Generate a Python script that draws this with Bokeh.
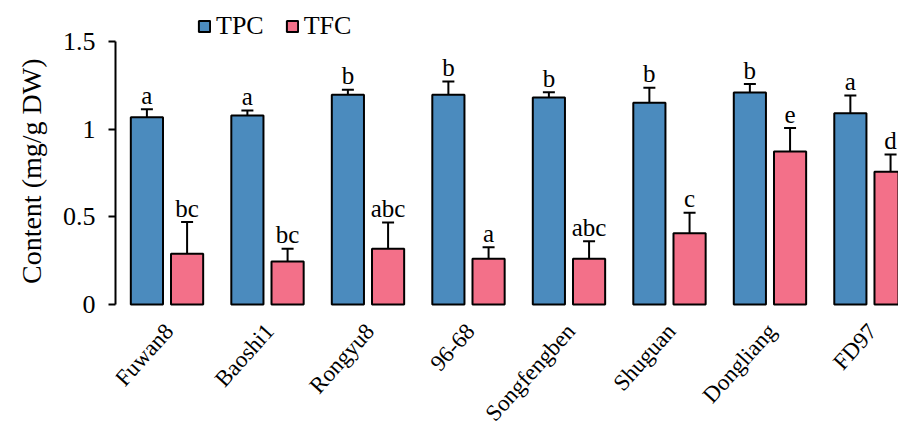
import numpy as np
from math import pi
from bokeh.plotting import figure
from bokeh.models import (ColumnDataSource, Whisker, TeeHead, Legend, LegendItem,
                          FixedTicker, Range1d, Title)
from bokeh.core.properties import value
from bokeh.embed import file_html
from bokeh.resources import INLINE

categories = ["Fuwan8", "Baoshi1", "Rongyu8", "96-68", "Songfengben", "Shuguan", "Dongliang", "FD97"]
tpc = [1.068, 1.078, 1.196, 1.196, 1.181, 1.150, 1.209, 1.091]
tpc_err = [0.045, 0.029, 0.029, 0.076, 0.030, 0.086, 0.048, 0.101]
tfc = [0.289, 0.245, 0.318, 0.261, 0.261, 0.407, 0.873, 0.757]
tfc_err = [0.181, 0.073, 0.150, 0.066, 0.100, 0.116, 0.133, 0.099]
tpc_letters = ["a", "a", "b", "b", "b", "b", "b", "a"]
tfc_letters = ["bc", "bc", "abc", "a", "abc", "c", "e", "d"]
y_ticks = [0, 0.5, 1, 1.5]
y_tick_labels = ["0", "0.5", "1", "1.5"]
y_title = "Content (mg/g DW)"

FONT = "Liberation Serif"
BLUE = "#4B8BBE"
PINK = "#F37089"
LETTER_GAP = 0.08      # gap between cap and letter, in data units
LABEL_Y = -0.13        # anchor of the category names, in data units
LABEL_ANGLE = 48 * pi / 180

idx = np.arange(len(categories))
x_tpc = idx - 0.2
x_tfc = idx + 0.2

def make_src(x, vals, errs, labs):
    v = np.array(vals)
    e = np.array(errs)
    return ColumnDataSource(dict(x=x, top=v, upper=v + e, lab_y=v + e + LETTER_GAP, lab=labs))

src_tpc = make_src(x_tpc, tpc, tpc_err, tpc_letters)
src_tfc = make_src(x_tfc, tfc, tfc_err, tfc_letters)
src_cat = ColumnDataSource(dict(x=idx + 0.02, y=np.full(len(idx), LABEL_Y), name=categories))

p = figure(width=898, height=429, x_range=Range1d(-0.5124, 7.279), y_range=Range1d(-0.7129, 1.7338),
           output_backend="svg", toolbar_location=None,
           min_border_left=115, min_border_right=0, min_border_top=0, min_border_bottom=0)
p.outline_line_color = None
p.grid.visible = False
p.background_fill_color = "white"
p.xaxis.visible = False

r1 = p.vbar(x="x", top="top", width=0.32, source=src_tpc, fill_color=BLUE, line_color="black", line_width=2)
r2 = p.vbar(x="x", top="top", width=0.32, source=src_tfc, fill_color=PINK, line_color="black", line_width=2)

for src in (src_tpc, src_tfc):
    w = Whisker(base="x", lower="top", upper="upper", source=src, line_color="black", line_width=2,
                upper_head=TeeHead(size=12, line_width=2, line_color="black"), lower_head=None)
    p.add_layout(w)
    p.text(x="x", y="lab_y", text="lab", source=src, text_align="center", text_baseline="alphabetic",
           text_font=value(FONT), text_font_size="25px", text_color="black")

# category labels (x axis)
p.text(x="x", y="y", text="name", source=src_cat, angle=LABEL_ANGLE, text_align="right",
       text_baseline="middle", text_font=value(FONT), text_font_size="23px", text_color="black")

# y axis
yax = p.yaxis[0]
yax.bounds = (0, 1.5)
yax.ticker = FixedTicker(ticks=y_ticks)
yax.major_label_overrides = {t: l for t, l in zip(y_ticks, y_tick_labels)}
yax.major_tick_out = 7
yax.major_tick_in = 0
yax.minor_tick_out = 0
yax.minor_tick_in = 0
yax.axis_line_width = 2
yax.major_tick_line_width = 2
yax.axis_line_color = "black"
yax.major_tick_line_color = "black"
yax.major_label_standoff = 13
yax.major_label_text_font = FONT
yax.major_label_text_font_size = "26px"
yax.major_label_text_color = "black"

p.add_layout(Title(text=y_title, align="right", offset=58, vertical_align="bottom", standoff=26,
                   text_font=FONT, text_font_size="28px", text_font_style="normal",
                   text_color="black"), "left")

legend = Legend(items=[LegendItem(label="TPC", renderers=[r1]), LegendItem(label="TFC", renderers=[r2])],
                orientation="horizontal", location=(82, 388), padding=0, margin=0,
                border_line_color=None, background_fill_alpha=0,
                glyph_width=14, glyph_height=14, label_height=14, label_standoff=5, spacing=21,
                label_text_font=FONT, label_text_font_size="26px", label_text_color="black")
p.add_layout(legend)

open("out.html", "w").write(file_html(p, INLINE))
